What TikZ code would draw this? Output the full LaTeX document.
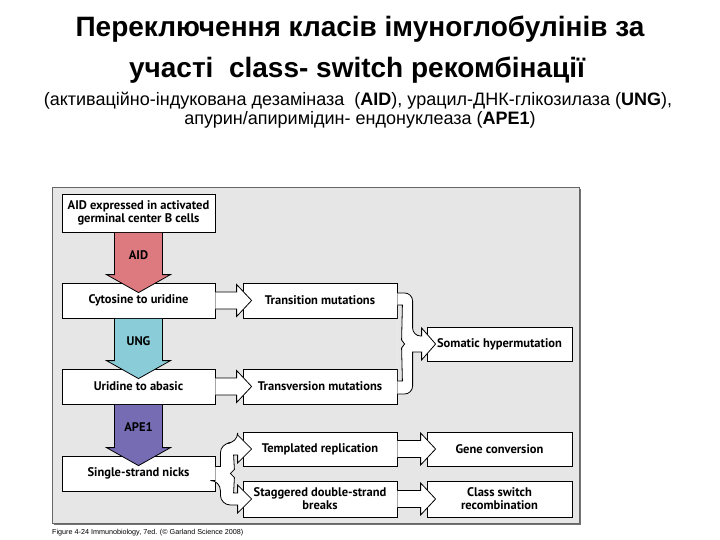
\documentclass[tikz,border=0pt]{standalone}
\usepackage{fontspec}
\setmainfont{Liberation Sans}
\newfontfamily\figfont{PT Sans}
\usetikzlibrary{calc}

\definecolor{aidred}{RGB}{220,122,128}
\definecolor{ungblue}{RGB}{138,204,216}
\definecolor{apepurple}{RGB}{118,108,180}
\definecolor{panelgray}{RGB}{230,230,230}

\tikzset{
    box/.style={draw, fill=white, line width=0.8pt, inner sep=1pt, align=center,
        minimum height=35pt, font=\figfont\bfseries\fontsize{12.5}{13}\selectfont},
    blockline/.style={draw, line width=0.8pt, line join=miter},
    arrowlabel/.style={font=\figfont\bfseries\fontsize{12.5}{13}\selectfont},
    titletext/.style={font=\bfseries\fontsize{28}{30}\selectfont},
    subtext/.style={font=\fontsize{18}{20}\selectfont},
}

% vertical coloured block arrow: from, to, colour, label
\newcommand{\downblock}[4]{%
    \draw[blockline, fill=#3] ($(#1.south)+(-24,0.5)$) -- ($(#2.north)+(-24,-8)$) -- ($(#2.north)+(-32,-8)$)
        -- ($(#2.north)+(0,10)$) -- ($(#2.north)+(32,-8)$) -- ($(#2.north)+(24,-8)$) -- ($(#1.south)+(24,0.5)$);
    \node[arrowlabel] (#4) at ($(#1.south)!0.45!(#2.north)$) {#4};
}
% horizontal white block arrow: from, to
\newcommand{\rightblock}[2]{%
    \draw[blockline, fill=white] ($(#1.east)+(0,-8.5)$) -- ($(#2.west)+(-6,-8.5)$) -- ($(#2.west)+(-6,-16)$)
        -- ($(#2.west)+(9,0)$) -- ($(#2.west)+(-6,16)$) -- ($(#2.west)+(-6,8.5)$) -- ($(#1.east)+(0,8.5)$);
}

\begin{document}
\begin{tikzpicture}[x=1pt, y=-1pt]
    \useasboundingbox[fill=white] (0,0) rectangle (720,540);

    % title
    \node[titletext] (title1) at (360,29) {Переключення класів імуноглобулінів за};
    \node[titletext] (title2) at (357,70) {участі\ \ class- switch рекомбінації};
    \node[subtext] (sub1) at (358,101) {(активаційно-індукована дезаміназа\ \ (\textbf{AID}), урацил-ДНК-глікозилаза (\textbf{UNG}),};
    \node[subtext] (sub2) at (360,120) {апурин/апиримідин- ендонуклеаза (\textbf{APE1})};

    % panel
    \fill[black!55] (54,189) rectangle (581,525);
    \draw[black!60, fill=panelgray, line width=0.6pt] (52,187) rectangle (579,523);

    % left column
    \node[box, minimum width=153pt, minimum height=38pt] (expr) at (138.5,213) {AID expressed in activated\\germinal center B cells};
    \node[box, minimum width=153pt] (cyto) at (138.5,300.5) {Cytosine to uridine};
    \node[box, minimum width=153pt] (urid) at (138.5,386.5) {Uridine to abasic};
    \node[box, minimum width=153pt] (nicks) at (138.5,473.5) {Single-strand nicks};

    % middle column
    \node[box, minimum width=154pt] (trans) at (320,300.5) {Transition mutations};
    \node[box, minimum width=154pt] (transv) at (320,386.5) {Transversion mutations};
    \node[box, minimum width=154pt, minimum height=34pt] (templ) at (320,449) {Templated replication};
    \node[box, minimum width=154pt, minimum height=36pt] (stag) at (320,499) {Staggered double-strand\\breaks};

    % right column
    \node[box, minimum width=145pt, minimum height=34pt] (soma) at (499.5,344) {Somatic hypermutation};
    \node[box, minimum width=145pt, minimum height=34pt] (gene) at (499.5,449) {Gene conversion};
    \node[box, minimum width=145pt, minimum height=36pt] (csr) at (499.5,499) {Class switch\\recombination};

    % enzyme steps
    \downblock{expr}{cyto}{aidred}{AID}
    \downblock{cyto}{urid}{ungblue}{UNG}
    \downblock{urid}{nicks}{apepurple}{APE1}

    % straight arrows
    \rightblock{cyto}{trans}
    \rightblock{urid}{transv}
    \rightblock{templ}{gene}
    \rightblock{stag}{csr}

    % both mutations join into somatic hypermutation
    \draw[blockline, fill=white, even odd rule]
        ($(trans.east)+(0,-7.5)$) [rounded corners=8pt] -| ($(soma.west)+(-14,-8)$) [sharp corners]
        -- ($(soma.west)+(-5,-8)$) -- ($(soma.west)+(-5,-16)$) -- ($(soma.west)+(9,0)$)
        -- ($(soma.west)+(-5,16)$) -- ($(soma.west)+(-5,8)$) -- ($(soma.west)+(-14,8)$) -- ($(soma.west)+(-14,9)$)
        [rounded corners=8pt] |- ($(transv.east)+(0,7.5)$)
        [sharp corners]
        ($(transv.east)+(0,-5.5)$) -- ++(5,0) -- ($(soma.west)+(-25,4)$) -- ($(soma.west)+(-22,0)$)
        -- ($(soma.west)+(-25,-4)$) -- ($(trans.east)+(5,4.5)$) -- ++(-5,0);

    % nicks split into the two repair routes
    \draw[blockline, fill=white]
        ($(nicks.east)+(0,-7)$) -- ++(5,0) -- ++(0,-1) [rounded corners=10pt] |- ($(templ.west)+(-5,-6)$) [sharp corners]
        -- ($(templ.west)+(-5,-14)$) -- ($(templ.west)+(9,0)$) -- ($(templ.west)+(-5,14)$) -- ($(templ.west)+(-5,6)$)
        -- ($(templ.west)+(-9,6)$) -- ($(nicks.east)+(19,-4)$) -- ($(nicks.east)+(15,0)$) -- ($(nicks.east)+(19,4)$)
        -- ($(stag.west)+(-9,-6)$) -- ($(stag.west)+(-5,-6)$) -- ($(stag.west)+(-5,-14)$) -- ($(stag.west)+(9,0)$)
        -- ($(stag.west)+(-5,14)$) -- ($(stag.west)+(-5,6)$) -- ($(stag.west)+(-6,6)$)
        [rounded corners=10pt] -| ($(nicks.east)+(5,7)$) [sharp corners] -- ++(-5,0);

    % source line
    \node[anchor=west, font=\fontsize{7.2}{8}\selectfont, inner sep=0pt] (source) at (52,533) {Figure 4-24 Immunobiology, 7ed. (© Garland Science 2008)};
\end{tikzpicture}
\end{document}
